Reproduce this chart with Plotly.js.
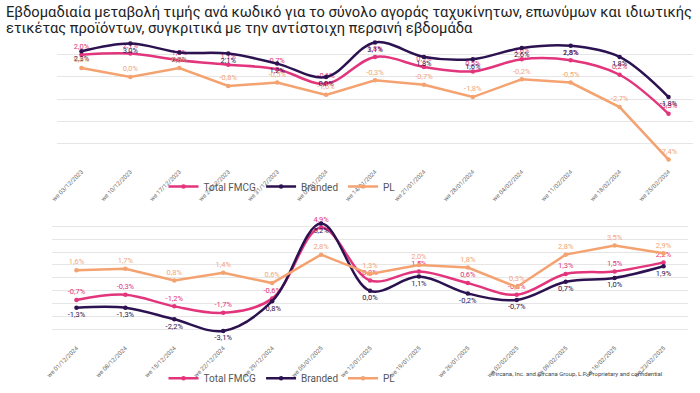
<!DOCTYPE html>
<html>
<head>
<meta charset="utf-8">
<script src="https://cdn.plot.ly/plotly-3.0.1.min.js"></script>
<style>html,body{margin:0;padding:0;background:#fff}#chart{width:700px;height:393px}</style>
</head>
<body>
<div id="chart"></div>
<script>
// ---- data: 2023/24 weeks ----
const weeksA = ['we 03/12/2023','we 10/12/2023','we 17/12/2023','we 24/12/2023','we 31/12/2023','we 07/01/2024','we 14/01/2024','we 21/01/2024','we 28/01/2024','we 04/02/2024','we 11/02/2024','we 18/02/2024','we 25/02/2024'];
const fmcgA    = [2.0, 2.1, 1.5, 1.1, 0.7, -0.6, 1.8, 0.9, 0.5, 1.6, 1.5, 0.2, -3.3];
const brandedA = [2.3, 3.0, 2.2, 2.1, 1.2, 0.0, 3.1, 1.8, 1.6, 2.6, 2.8, 1.8, -1.8];
const plA      = [0.8, 0.0, 0.8, -0.8, -0.5, -1.6, -0.3, -0.7, -1.8, -0.2, -0.5, -2.7, -7.4];

// ---- data: 2024/25 weeks ----
const weeksB = ['we 01/12/2024','we 08/12/2024','we 15/12/2024','we 22/12/2024','we 29/12/2024','we 05/01/2025','we 12/01/2025','we 19/01/2025','we 26/01/2025','we 02/02/2025','we 09/02/2025','we 16/02/2025','we 23/02/2025'];
const fmcgB    = [-0.7, -0.3, -1.2, -1.7, -0.6, 4.9, 0.8, 1.5, 0.6, -0.3, 1.3, 1.5, 2.2];
const brandedB = [-1.3, -1.3, -2.2, -3.1, -0.8, 5.2, 0.0, 1.1, -0.2, -0.7, 0.7, 1.0, 1.9];
const plB      = [1.6, 1.7, 0.8, 1.4, 0.6, 2.8, 1.3, 2.0, 1.8, 0.3, 2.8, 3.5, 2.9];

const seriesNames = ['Total FMCG', 'Branded', 'PL'];

const C_FMCG = '#E2357C', C_BR = '#2C1250', C_PL = '#F4A270';
const fmt = v => v.toFixed(1).replace('.', ',') + '%';
const FONT = 'Roboto, "Noto Sans", sans-serif';

function mk(x, y, name, color, textColor, pos, shape, xa, ya, leg) {
  return {
    x: x, y: y, name: name, type: 'scatter', mode: 'lines+markers+text',
    xaxis: xa, yaxis: ya, legend: leg, showlegend: true,
    line: {color: color, width: 2.5, shape: shape, smoothing: 1},
    marker: {color: color, size: 4.5},
    text: y.map(fmt), textposition: pos,
    textfont: {size: 7.5, color: textColor, family: FONT},
    cliponaxis: false, hoverinfo: 'skip'
  };
}

const data = [
  mk(weeksA, fmcgA, seriesNames[0], C_FMCG, C_FMCG, 'top center', 'spline', 'x', 'y', 'legend'),
  mk(weeksA, brandedA, seriesNames[1], C_BR, C_BR, 'bottom center', 'spline', 'x', 'y', 'legend'),
  mk(weeksA, plA, seriesNames[2], C_PL, '#F2A67A', 'top center', 'linear', 'x', 'y', 'legend'),
  mk(weeksB, fmcgB, seriesNames[0], C_FMCG, C_FMCG, 'top center', 'spline', 'x2', 'y2', 'legend2'),
  mk(weeksB, brandedB, seriesNames[1], C_BR, C_BR, 'bottom center', 'spline', 'x2', 'y2', 'legend2'),
  mk(weeksB, plB, seriesNames[2], C_PL, '#F2A67A', 'top center', 'linear', 'x2', 'y2', 'legend2')
];

const H = 393, W = 700;
const xCommon = {type: 'category', range: [-0.5, 12.5], tickangle: -45, showgrid: false, zeroline: false,
  showline: false, ticks: '', tickfont: {size: 6, color: '#666', family: FONT}, automargin: false, fixedrange: true};
const yCommon = {showticklabels: false, zeroline: false, showline: false, gridcolor: '#e6e6e6', gridwidth: 1, ticks: '', fixedrange: true};
const legCommon = {orientation: 'h', xanchor: 'center', yanchor: 'middle', bgcolor: 'rgba(0,0,0,0)',
  font: {size: 10, color: '#555', family: FONT}, itemwidth: 30, tracegroupgap: 0};

const layout = {
  width: W, height: H, margin: {l: 0, r: 0, t: 0, b: 0},
  paper_bgcolor: '#fff', plot_bgcolor: '#fff',
  font: {family: FONT},
  xaxis: Object.assign({}, xCommon, {domain: [57 / W, 693 / W], anchor: 'y'}),
  yaxis: Object.assign({}, yCommon, {domain: [1 - 168.4 / H, 1 - 33.9 / H], range: [-8, 3.9], tick0: 0, dtick: 2, anchor: 'x'}),
  xaxis2: Object.assign({}, xCommon, {domain: [52 / W, 688 / W], anchor: 'y2'}),
  yaxis2: Object.assign({}, yCommon, {domain: [1 - 347 / H, 1 - 216 / H], range: [-4, 6], tick0: 0, dtick: 1, anchor: 'x2'}),
  legend: Object.assign({}, legCommon, {x: 282 / W, y: 1 - 189 / H}),
  legend2: Object.assign({}, legCommon, {x: 282 / W, y: 1 - 383 / H}),
  annotations: [
    {xref: 'paper', yref: 'paper', x: 4 / W, y: 1 - 12.5 / H, xanchor: 'left', yanchor: 'middle', showarrow: false,
     text: 'Εβδομαδιαία μεταβολή τιμής ανά κωδικό για το σύνολο αγοράς ταχυκίνητων, επωνύμων και ιδιωτικής',
     font: {size: 14.7, color: '#222', family: FONT}},
    {xref: 'paper', yref: 'paper', x: 4 / W, y: 1 - 28.5 / H, xanchor: 'left', yanchor: 'middle', showarrow: false,
     text: 'ετικέτας προϊόντων, συγκριτικά με την αντίστοιχη περσινή εβδομάδα',
     font: {size: 14.7, color: '#222', family: FONT}},
    {xref: 'paper', yref: 'paper', x: 489 / W, y: 1 - 378 / H, xanchor: 'left', yanchor: 'middle', showarrow: false,
     text: '©ircana, Inc. and Circana Group, L.P. Proprietary and confidential',
     font: {size: 6, color: '#444', family: FONT}}
  ]
};

Plotly.newPlot('chart', data, layout, {staticPlot: true, displayModeBar: false});
</script>
</body>
</html>
